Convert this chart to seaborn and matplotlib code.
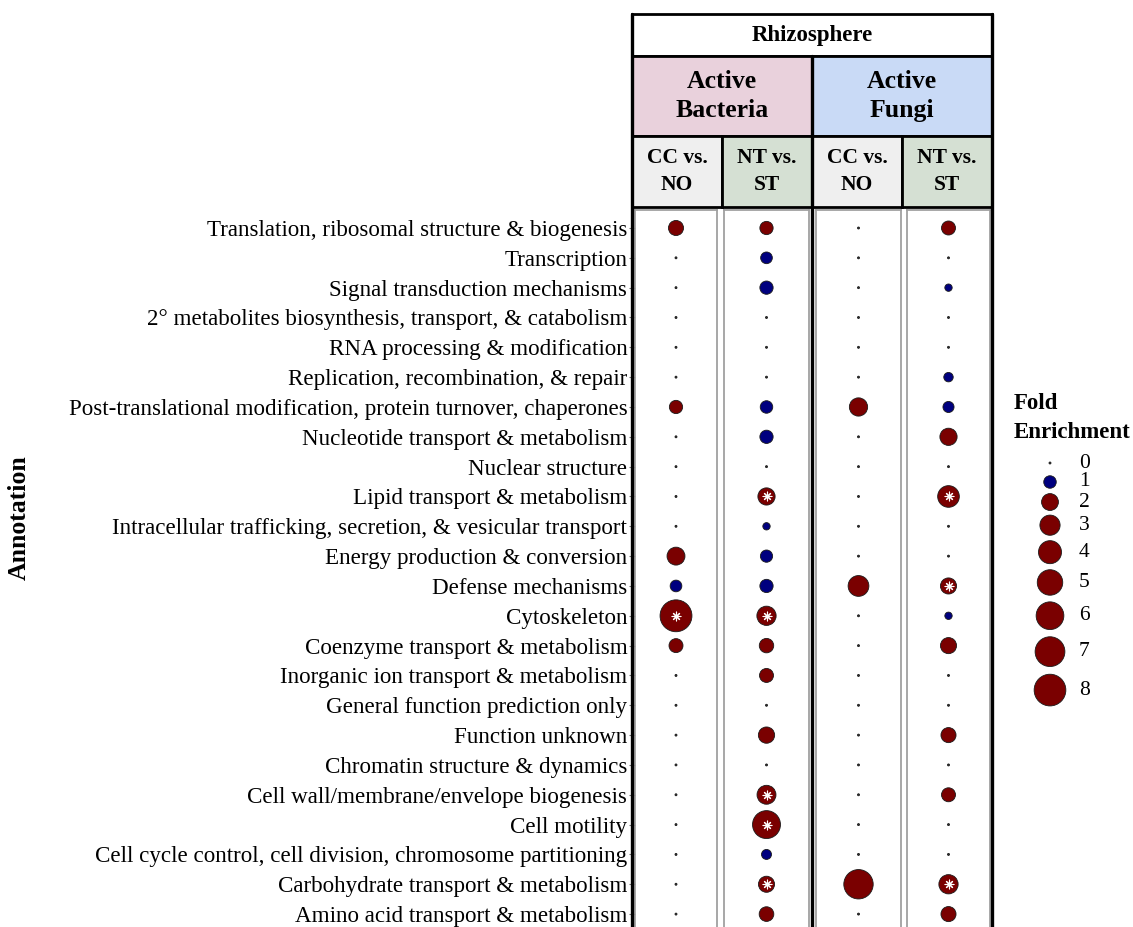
import numpy as np
import pandas as pd
import matplotlib
matplotlib.use("Agg")
import matplotlib.pyplot as plt
from matplotlib.patches import Rectangle
from matplotlib.lines import Line2D
import seaborn as sns

sns.set_theme(style="white")
plt.rcParams["font.family"] = ["Liberation Serif", "DejaVu Serif"]
plt.rcParams["text.color"] = "black"
plt.rcParams["ytick.labelcolor"] = "black"

# ---------------------------------------------------------------- data
annotations = [
    "Translation, ribosomal structure & biogenesis",
    "Transcription",
    "Signal transduction mechanisms",
    "2\u00b0 metabolites biosynthesis, transport, & catabolism",
    "RNA processing & modification",
    "Replication, recombination, & repair",
    "Post-translational modification, protein turnover, chaperones",
    "Nucleotide transport & metabolism",
    "Nuclear structure",
    "Lipid transport & metabolism",
    "Intracellular trafficking, secretion, & vesicular transport",
    "Energy production & conversion",
    "Defense mechanisms",
    "Cytoskeleton",
    "Coenzyme transport & metabolism",
    "Inorganic ion transport & metabolism",
    "General function prediction only",
    "Function unknown",
    "Chromatin structure & dynamics",
    "Cell wall/membrane/envelope biogenesis",
    "Cell motility",
    "Cell cycle control, cell division, chromosome partitioning",
    "Carbohydrate transport & metabolism",
    "Amino acid transport & metabolism",
]

comparisons = ["bact_cc", "bact_nt", "fungi_cc", "fungi_nt"]

# fold enrichment per annotation
bact_cc_fold = [1.55, 0, 0, 0, 0, 0, 1.15, 0, 0, 0, 0, 2.3,
                0.85, 8.1, 1.3, 0, 0, 0, 0, 0, 0, 0, 0, 0]
bact_nt_fold = [1.15, 0.85, 1.15, 0, 0, 0, 1.0, 1.15, 0, 2.1, 0.26, 0.95,
                1.15, 2.7, 1.4, 1.3, 0, 1.85, 0, 2.6, 6.1, 0.58, 1.8, 1.45]
fungi_cc_fold = [0, 0, 0, 0, 0, 0, 2.4, 0, 0, 0, 0, 0,
                 3.2, 0, 0, 0, 0, 0, 0, 0, 0, 0, 6.8, 0]
fungi_nt_fold = [1.3, 0, 0.26, 0, 0, 0.5, 0.75, 2.1, 0, 3.5, 0, 0,
                 1.8, 0.26, 1.8, 0, 0, 1.55, 0, 1.3, 0, 0, 2.7, 1.55]

# direction of change: E = enriched, D = depleted, - = none
bact_cc_dir = ["E", "-", "-", "-", "-", "-", "E", "-", "-", "-", "-", "E",
               "D", "E", "E", "-", "-", "-", "-", "-", "-", "-", "-", "-"]
bact_nt_dir = ["E", "D", "D", "-", "-", "-", "D", "D", "-", "E", "D", "D",
               "D", "E", "E", "E", "-", "E", "-", "E", "E", "D", "E", "E"]
fungi_cc_dir = ["-", "-", "-", "-", "-", "-", "E", "-", "-", "-", "-", "-",
                "E", "-", "-", "-", "-", "-", "-", "-", "-", "-", "E", "-"]
fungi_nt_dir = ["E", "-", "D", "-", "-", "D", "D", "E", "-", "E", "-", "-",
                "E", "D", "E", "-", "-", "E", "-", "E", "-", "-", "E", "E"]

# significant categories (asterisk), as row indices
bact_cc_sig = [13]
bact_nt_sig = [9, 13, 19, 20, 22]
fungi_cc_sig = []
fungi_nt_sig = [9, 12, 22]

legend_values = [0, 1, 2, 3, 4, 5, 6, 7, 8]
legend_dir = ["-", "D", "E", "E", "E", "E", "E", "E", "E"]

header_top = "Rhizosphere"
header_groups = ["Active\nBacteria", "Active\nFungi"]
header_comps = ["CC vs.\nNO", "NT vs.\nST", "CC vs.\nNO", "NT vs.\nST"]

# ---------------------------------------------------------------- helpers
W, H = 1133, 927
DPI = 100
PT_PER_PX = 72.0 / DPI


def fx(px):
    return px / W


def fy(py):
    return 1 - py / H


def marker_area(v):
    d_px = 2.0 + 10.5 * np.sqrt(np.asarray(v, dtype=float))
    return (d_px * PT_PER_PX) ** 2


AREA_LO = float(marker_area(0))
AREA_HI = float(marker_area(9))
palette = {"E": "#7a0000", "D": "#00007f", "-": "#303030"}

folds = [bact_cc_fold, bact_nt_fold, fungi_cc_fold, fungi_nt_fold]
dirs = [bact_cc_dir, bact_nt_dir, fungi_cc_dir, fungi_nt_dir]
sigs = [bact_cc_sig, bact_nt_sig, fungi_cc_sig, fungi_nt_sig]

fig = plt.figure(figsize=(W / DPI, H / DPI), dpi=DPI)

# ---------------------------------------------------------------- panels
panel_px = [(635, 717), (724, 809), (816, 901), (907, 990)]
panel_top = 210
row0_px, row_step = 228, 29.83
n = len(annotations)
y_top = -(row0_px - panel_top) / row_step
y_bot = (n - 1) + (H - (row0_px + (n - 1) * row_step)) / row_step

for k, (x0, x1) in enumerate(panel_px):
    ax = fig.add_axes([fx(x0), 0, fx(x1 - x0), (H - panel_top) / H])
    df = pd.DataFrame({
        "annotation": annotations,
        "row": np.arange(n),
        "x": 0.0,
        "fold": folds[k],
        "direction": dirs[k],
    })
    df["area"] = marker_area(df["fold"])
    sns.scatterplot(data=df, x="x", y="row", hue="direction", palette=palette,
                    size="area", sizes=(AREA_LO, AREA_HI),
                    size_norm=(AREA_LO, AREA_HI), edgecolor="#1a1a1a",
                    linewidth=0.6, legend=False, ax=ax, zorder=3)
    sig_df = df.iloc[sigs[k]]
    if len(sig_df):
        sns.scatterplot(data=sig_df, x="x", y="row", marker=(8, 2, 0), s=40,
                        color="white", edgecolor="white", linewidth=0.8,
                        legend=False, ax=ax, zorder=4)
    ax.set_xlim(-1, 1)
    ax.set_ylim(y_bot, y_top)
    ax.set_xlabel("")
    ax.set_ylabel("")
    ax.set_xticks([])
    for side in ("top", "left", "right"):
        ax.spines[side].set_visible(True)
        ax.spines[side].set_color("#a0a0a0")
        ax.spines[side].set_linewidth(1.3)
    ax.spines["bottom"].set_visible(False)
    if k == 0:
        ax.set_yticks(np.arange(n))
        ax.set_yticklabels(annotations, fontsize=16.6)
        ax.tick_params(axis="y", left=True, length=4, width=0.8,
                       color="#707070", pad=1.5)
    else:
        ax.set_yticks([])

# ---------------------------------------------------------------- header
def cell(x0, y0, x1, y1, face, text, size, spacing):
    fig.add_artist(Rectangle((fx(x0), fy(y1)), fx(x1 - x0), (y1 - y0) / H,
                             transform=fig.transFigure, facecolor=face,
                             edgecolor="black", linewidth=2.0, zorder=5))
    fig.text(fx((x0 + x1) / 2), fy((y0 + y1) / 2), text, ha="center",
             va="center", fontsize=size, fontweight="bold",
             linespacing=spacing, zorder=6)


cell(632, 14, 992, 56, "white", header_top, 16.5, 1.0)
cell(632, 56, 812, 136, "#e9d1dc", header_groups[0], 18.5, 1.3)
cell(812, 56, 992, 136, "#c9daf6", header_groups[1], 18.5, 1.3)
comp_x = [632, 722, 812, 902, 992]
comp_face = ["#efefef", "#d5e0d3", "#efefef", "#d5e0d3"]
for i, txt in enumerate(header_comps):
    cell(comp_x[i], 136, comp_x[i + 1], 207, comp_face[i], txt, 15.5, 1.45)

# outer frame and group separator running down through the panels
for xv, ytop in ((632, 14), (812, 56), (992, 14)):
    fig.add_artist(Line2D([fx(xv), fx(xv)], [fy(ytop), 0], color="black",
                          linewidth=2.4, transform=fig.transFigure, zorder=7))

fig.text(fx(19), fy(518), "Annotation", rotation=90, ha="center", va="center",
         fontsize=18.5, fontweight="bold")

# ---------------------------------------------------------------- legend
lax = fig.add_axes([fx(1000), fy(730), fx(W - 1000), (730 - 440) / H])
leg_d = 2.0 + 10.5 * np.sqrt(np.array(legend_values, dtype=float))
key_h = np.maximum(19.0, 1.25 * leg_d)
leg_y = [463.0]
for i in range(1, len(legend_values)):
    leg_y.append(leg_y[-1] + (key_h[i - 1] + key_h[i]) / 2)
leg_df = pd.DataFrame({"fold": legend_values, "direction": legend_dir,
                       "x": 1050.0, "y": leg_y})
leg_df["area"] = marker_area(leg_df["fold"])
sns.scatterplot(data=leg_df, x="x", y="y", hue="direction", palette=palette,
                size="area", sizes=(AREA_LO, AREA_HI),
                size_norm=(AREA_LO, AREA_HI), edgecolor="#1a1a1a",
                linewidth=0.6, legend=False, ax=lax)
for v, yv in zip(legend_values, leg_y):
    lax.text(1079, yv, str(v), ha="left", va="center", fontsize=15.5)
lax.set_xlim(1000, W)
lax.set_ylim(730, 440)
lax.axis("off")
fig.text(fx(1014), fy(393), "Fold\nEnrichment", ha="left", va="top",
         fontsize=16.5, fontweight="bold", linespacing=1.5)

fig.savefig("out.png", dpi=DPI)
